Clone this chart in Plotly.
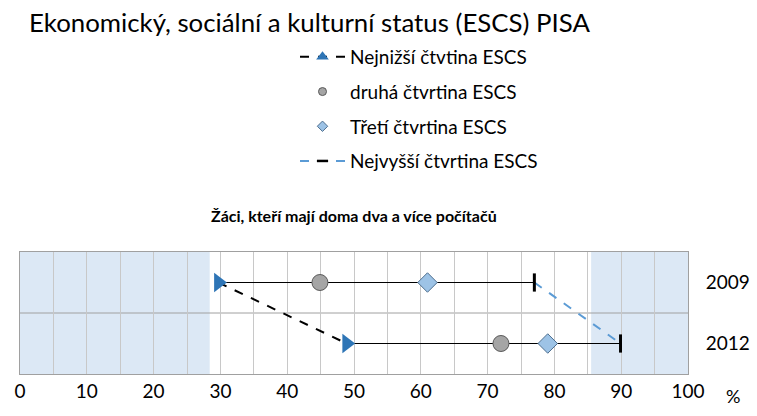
import plotly.graph_objects as go

years = ["2009", "2012"]
lowest = [29.7, 48.9]
second = [44.9, 72.0]
third = [61.0, 79.0]
highest = [77.0, 89.9]
shade_left = [0, 28.4]
shade_right = [85.5, 100]
x_ticks = list(range(0, 101, 10))
names = ["Nejnižší čtvtina ESCS", "druhá čtvrtina ESCS", "Třetí čtvrtina ESCS", "Nejvyšší čtvrtina ESCS"]

FONT = "Lato"
L, R, T, B = 20, 688, 252, 374
W, H = R - L, B - T


def px(x):
    return (x - L) / W


def py(y):
    return (B - y) / H


fig = go.Figure()

# range lines
for i, yr in enumerate(years):
    fig.add_trace(go.Scatter(x=[lowest[i], highest[i]], y=[yr, yr], mode="lines",
                             line=dict(color="black", width=1), showlegend=False, hoverinfo="skip"))

fig.add_trace(go.Scatter(x=lowest, y=years, mode="lines+markers",
                         line=dict(color="black", width=2, dash="dash"),
                         marker=dict(symbol="triangle-right", size=17, color="#2e75b6"),
                         showlegend=False))
fig.add_trace(go.Scatter(x=highest, y=years, mode="lines+markers",
                         line=dict(color="#5b9bd5", width=2, dash="dash"),
                         marker=dict(symbol="line-ns", size=13, line=dict(color="black", width=3)),
                         showlegend=False))
fig.add_trace(go.Scatter(x=second, y=years, mode="markers",
                         marker=dict(symbol="circle", size=16, color="#a5a5a5", line=dict(color="#595959", width=1)),
                         showlegend=False))
fig.add_trace(go.Scatter(x=third, y=years, mode="markers",
                         marker=dict(symbol="diamond", size=15, color="#9dc3e6", line=dict(color="#4f6f8f", width=1)),
                         showlegend=False))

# legend entries
fig.add_trace(go.Scatter(x=[None], y=[None], mode="lines+markers", name=names[0], legendgroup="a",
                         line=dict(color="black", width=2, dash="dash"),
                         marker=dict(symbol="triangle-up", size=11, color="#2e75b6")))
fig.add_trace(go.Scatter(x=[None], y=[None], mode="markers", name=names[1], legendgroup="b",
                         marker=dict(symbol="circle", size=8, color="#a5a5a5", line=dict(color="#595959", width=1))))
fig.add_trace(go.Scatter(x=[None], y=[None], mode="markers", name=names[2], legendgroup="c",
                         marker=dict(symbol="diamond", size=8, color="#9dc3e6", line=dict(color="#4f6f8f", width=1))))
fig.add_trace(go.Scatter(x=[None], y=[None], mode="lines+markers", name=names[3], legendgroup="d",
                         line=dict(color="#5b9bd5", width=2, dash="dash"),
                         marker=dict(symbol="line-ew", size=8, line=dict(color="black", width=2.5))))

for x0, x1 in (shade_left, shade_right):
    fig.add_shape(type="rect", xref="x", yref="paper", x0=x0, x1=x1, y0=0, y1=1,
                  fillcolor="#dce8f5", line_width=0, layer="below")
fig.add_shape(type="line", xref="paper", yref="paper", x0=0, x1=1, y0=0.5, y1=0.5,
              line=dict(color="#a0a0a0", width=1), layer="below")

fig.update_layout(
    width=757, height=416,
    margin=dict(l=L, r=757 - R, t=T, b=416 - B, autoexpand=False),
    paper_bgcolor="white", plot_bgcolor="rgba(0,0,0,0)",
    font=dict(family=FONT, color="black"),
    legend=dict(x=px(295), xanchor="left", y=py(38), yanchor="top", tracegroupgap=7,
                itemwidth=45, font=dict(size=19, family=FONT), bgcolor="rgba(0,0,0,0)"),
    xaxis=dict(range=[0, 100], tickvals=x_ticks, showgrid=True, gridcolor="#c8c8c8", gridwidth=1,
               minor=dict(dtick=5, showgrid=True, gridcolor="#c8c8c8"), automargin=False,
               zeroline=False, showline=True, linecolor="#a0a0a0", mirror=True,
               tickfont=dict(size=19, family=FONT), ticks="", ticklen=0),
    yaxis=dict(type="category", categoryarray=["2012", "2009"], range=[-0.5, 1.5], side="right",
               showgrid=False, showline=True, linecolor="#a0a0a0", mirror=True, automargin=False,
               tickfont=dict(size=19, family=FONT), ticks="outside", ticklen=13, tickcolor="rgba(0,0,0,0)"),
    showlegend=True,
)

fig.add_annotation(text="Ekonomický, sociální a kulturní status (ESCS) PISA", xref="paper", yref="paper",
                   x=px(27), y=py(22), xanchor="left", yanchor="middle", showarrow=False,
                   font=dict(size=25.8, family=FONT))
fig.add_annotation(text="<b>Žáci, kteří mají doma dva a více počítačů</b>", xref="paper", yref="paper",
                   x=px(354), y=py(215), xanchor="center", yanchor="middle", showarrow=False,
                   font=dict(size=16, family=FONT))
fig.add_annotation(text="%", xref="paper", yref="paper",
                   x=px(733), y=py(396), xanchor="center", yanchor="middle", showarrow=False,
                   font=dict(size=18, family=FONT))

fig.write_html("out.html", config={"displayModeBar": False},
               post_script="document.body.style.margin='0';")
